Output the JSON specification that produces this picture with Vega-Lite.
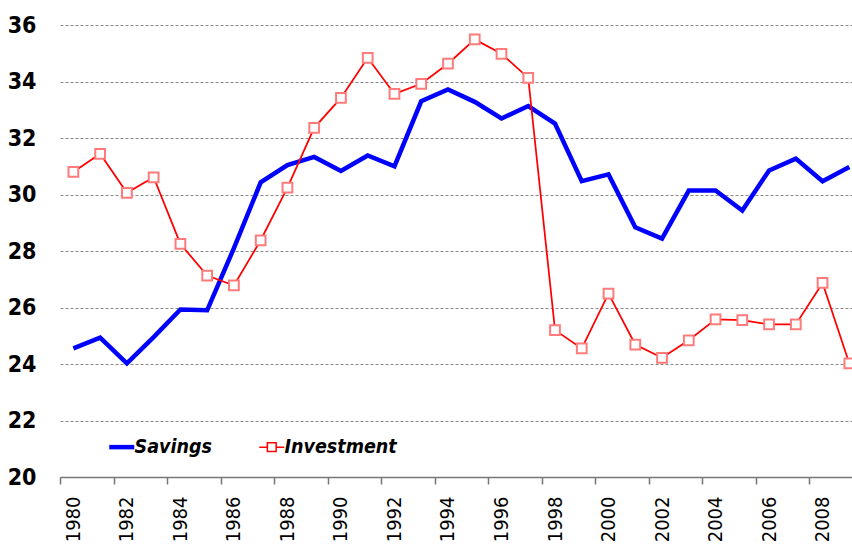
{
  "$schema": "https://vega.github.io/schema/vega-lite/v6.json",
  "autosize": {"type": "none"},
  "width": 792,
  "height": 452,
  "padding": {"left": 60, "top": 25, "right": 0, "bottom": 67},
  "background": "white",
  "config": {
    "view": {"stroke": null},
    "font": "'DejaVu Sans Condensed', Roboto"
  },
  "data": {
    "values": [
      {"year": 1980, "series": "Savings", "value": 24.55},
      {"year": 1981, "series": "Savings", "value": 24.93},
      {"year": 1982, "series": "Savings", "value": 24.02},
      {"year": 1983, "series": "Savings", "value": 24.95},
      {"year": 1984, "series": "Savings", "value": 25.93},
      {"year": 1985, "series": "Savings", "value": 25.9},
      {"year": 1986, "series": "Savings", "value": 28.1},
      {"year": 1987, "series": "Savings", "value": 30.43},
      {"year": 1988, "series": "Savings", "value": 31.04},
      {"year": 1989, "series": "Savings", "value": 31.33},
      {"year": 1990, "series": "Savings", "value": 30.83},
      {"year": 1991, "series": "Savings", "value": 31.38},
      {"year": 1992, "series": "Savings", "value": 31.0},
      {"year": 1993, "series": "Savings", "value": 33.3},
      {"year": 1994, "series": "Savings", "value": 33.72},
      {"year": 1995, "series": "Savings", "value": 33.28},
      {"year": 1996, "series": "Savings", "value": 32.69},
      {"year": 1997, "series": "Savings", "value": 33.13},
      {"year": 1998, "series": "Savings", "value": 32.51},
      {"year": 1999, "series": "Savings", "value": 30.47},
      {"year": 2000, "series": "Savings", "value": 30.71},
      {"year": 2001, "series": "Savings", "value": 28.84},
      {"year": 2002, "series": "Savings", "value": 28.44},
      {"year": 2003, "series": "Savings", "value": 30.14},
      {"year": 2004, "series": "Savings", "value": 30.14},
      {"year": 2005, "series": "Savings", "value": 29.43},
      {"year": 2006, "series": "Savings", "value": 30.85},
      {"year": 2007, "series": "Savings", "value": 31.27},
      {"year": 2008, "series": "Savings", "value": 30.47},
      {"year": 2009, "series": "Savings", "value": 30.97},
      {"year": 1980, "series": "Investment", "value": 30.8},
      {"year": 1981, "series": "Investment", "value": 31.44},
      {"year": 1982, "series": "Investment", "value": 30.06},
      {"year": 1983, "series": "Investment", "value": 30.61},
      {"year": 1984, "series": "Investment", "value": 28.25},
      {"year": 1985, "series": "Investment", "value": 27.13},
      {"year": 1986, "series": "Investment", "value": 26.78},
      {"year": 1987, "series": "Investment", "value": 28.38},
      {"year": 1988, "series": "Investment", "value": 30.24},
      {"year": 1989, "series": "Investment", "value": 32.36},
      {"year": 1990, "series": "Investment", "value": 33.42},
      {"year": 1991, "series": "Investment", "value": 34.84},
      {"year": 1992, "series": "Investment", "value": 33.56},
      {"year": 1993, "series": "Investment", "value": 33.92},
      {"year": 1994, "series": "Investment", "value": 34.63},
      {"year": 1995, "series": "Investment", "value": 35.49},
      {"year": 1996, "series": "Investment", "value": 34.98},
      {"year": 1997, "series": "Investment", "value": 34.13},
      {"year": 1998, "series": "Investment", "value": 25.2},
      {"year": 1999, "series": "Investment", "value": 24.55},
      {"year": 2000, "series": "Investment", "value": 26.49},
      {"year": 2001, "series": "Investment", "value": 24.69},
      {"year": 2002, "series": "Investment", "value": 24.22},
      {"year": 2003, "series": "Investment", "value": 24.84},
      {"year": 2004, "series": "Investment", "value": 25.58},
      {"year": 2005, "series": "Investment", "value": 25.55},
      {"year": 2006, "series": "Investment", "value": 25.4},
      {"year": 2007, "series": "Investment", "value": 25.4},
      {"year": 2008, "series": "Investment", "value": 26.87},
      {"year": 2009, "series": "Investment", "value": 24.02}
    ]
  },
  "encoding": {
    "x": {
      "field": "year",
      "type": "quantitative",
      "scale": {"domain": [1979.5, 2009.1], "nice": false, "zero": false},
      "axis": {
        "title": null,
        "values": [1979.5, 1981.5, 1983.5, 1985.5, 1987.5, 1989.5, 1991.5, 1993.5, 1995.5, 1997.5, 1999.5, 2001.5, 2003.5, 2005.5, 2007.5],
        "labelExpr": "format(datum.value + 0.5, 'd')",
        "labelOffset": 13.4,
        "labelAngle": -90,
        "labelFont": "'DejaVu Sans Condensed', Roboto",
        "labelFontSize": 20,
        "labelColor": "#000000",
        "labelPadding": 12,
        "labelOverlap": false,
        "labelBound": false,
        "labelFlush": false,
        "grid": false,
        "domainColor": "#777777",
        "domainWidth": 1.5,
        "tickColor": "#777777",
        "tickWidth": 1.5,
        "tickSize": 7
      }
    },
    "y": {
      "field": "value",
      "type": "quantitative",
      "scale": {"domain": [20, 36], "nice": false, "zero": false},
      "axis": {
        "title": null,
        "values": [20, 22, 24, 26, 28, 30, 32, 34, 36],
        "domain": false,
        "ticks": false,
        "labelFont": "'DejaVu Sans Condensed', Roboto",
        "labelFontWeight": "bold",
        "labelFontSize": 23,
        "labelColor": "#000000",
        "labelPadding": 24,
        "grid": true,
        "gridColor": "#888888",
        "gridDash": [3, 2],
        "gridWidth": 1
      }
    }
  },
  "layer": [
    {
      "transform": [{"filter": "datum.series === 'Savings'"}],
      "mark": {"type": "line", "strokeWidth": 4.5, "color": "#0000ff"},
      "encoding": {}
    },
    {
      "transform": [{"filter": "datum.series === 'Investment'"}],
      "mark": {"type": "line", "strokeWidth": 1.75, "color": "#ff0000"},
      "encoding": {}
    },
    {
      "transform": [{"filter": "datum.series === 'Investment'"}],
      "mark": {"type": "point", "shape": "square", "size": 95, "filled": true, "fill": "#ffffff", "stroke": "#ff7b7b", "strokeWidth": 2, "opacity": 1},
      "encoding": {}
    },
    {
      "mark": {"type": "line", "opacity": 0},
      "encoding": {
        "color": {
          "field": "series",
          "type": "nominal",
          "scale": {"domain": ["Savings", "Investment"], "range": ["#0000ff", "#ff0000"]},
          "legend": {
            "title": null,
            "orient": "none",
            "legendX": 52,
            "legendY": 412,
            "direction": "horizontal",
            "columnPadding": 44,
            "labelFont": "'DejaVu Sans Condensed', Roboto",
            "labelFontStyle": "italic",
            "labelFontWeight": "bold",
            "labelFontSize": 19.5,
            "labelColor": "#000000",
            "labelOffset": 3,
            "labelLimit": 300,
            "symbolSize": 625,
            "symbolOpacity": 1,
            "encode": {
              "symbols": {
                "update": {
                  "shape": {"signal": "datum.value === 'Savings' ? 'M-1,0H1' : 'M-1,0H-0.35M0.35,0H1M-0.35,-0.35H0.35V0.35H-0.35Z'"},
                  "strokeWidth": {"signal": "datum.value === 'Savings' ? 4.5 : 1.5"},
                  "fill": {"value": "#ffffff"},
                  "opacity": {"value": 1}
                }
              }
            }
          }
        }
      }
    }
  ]
}
